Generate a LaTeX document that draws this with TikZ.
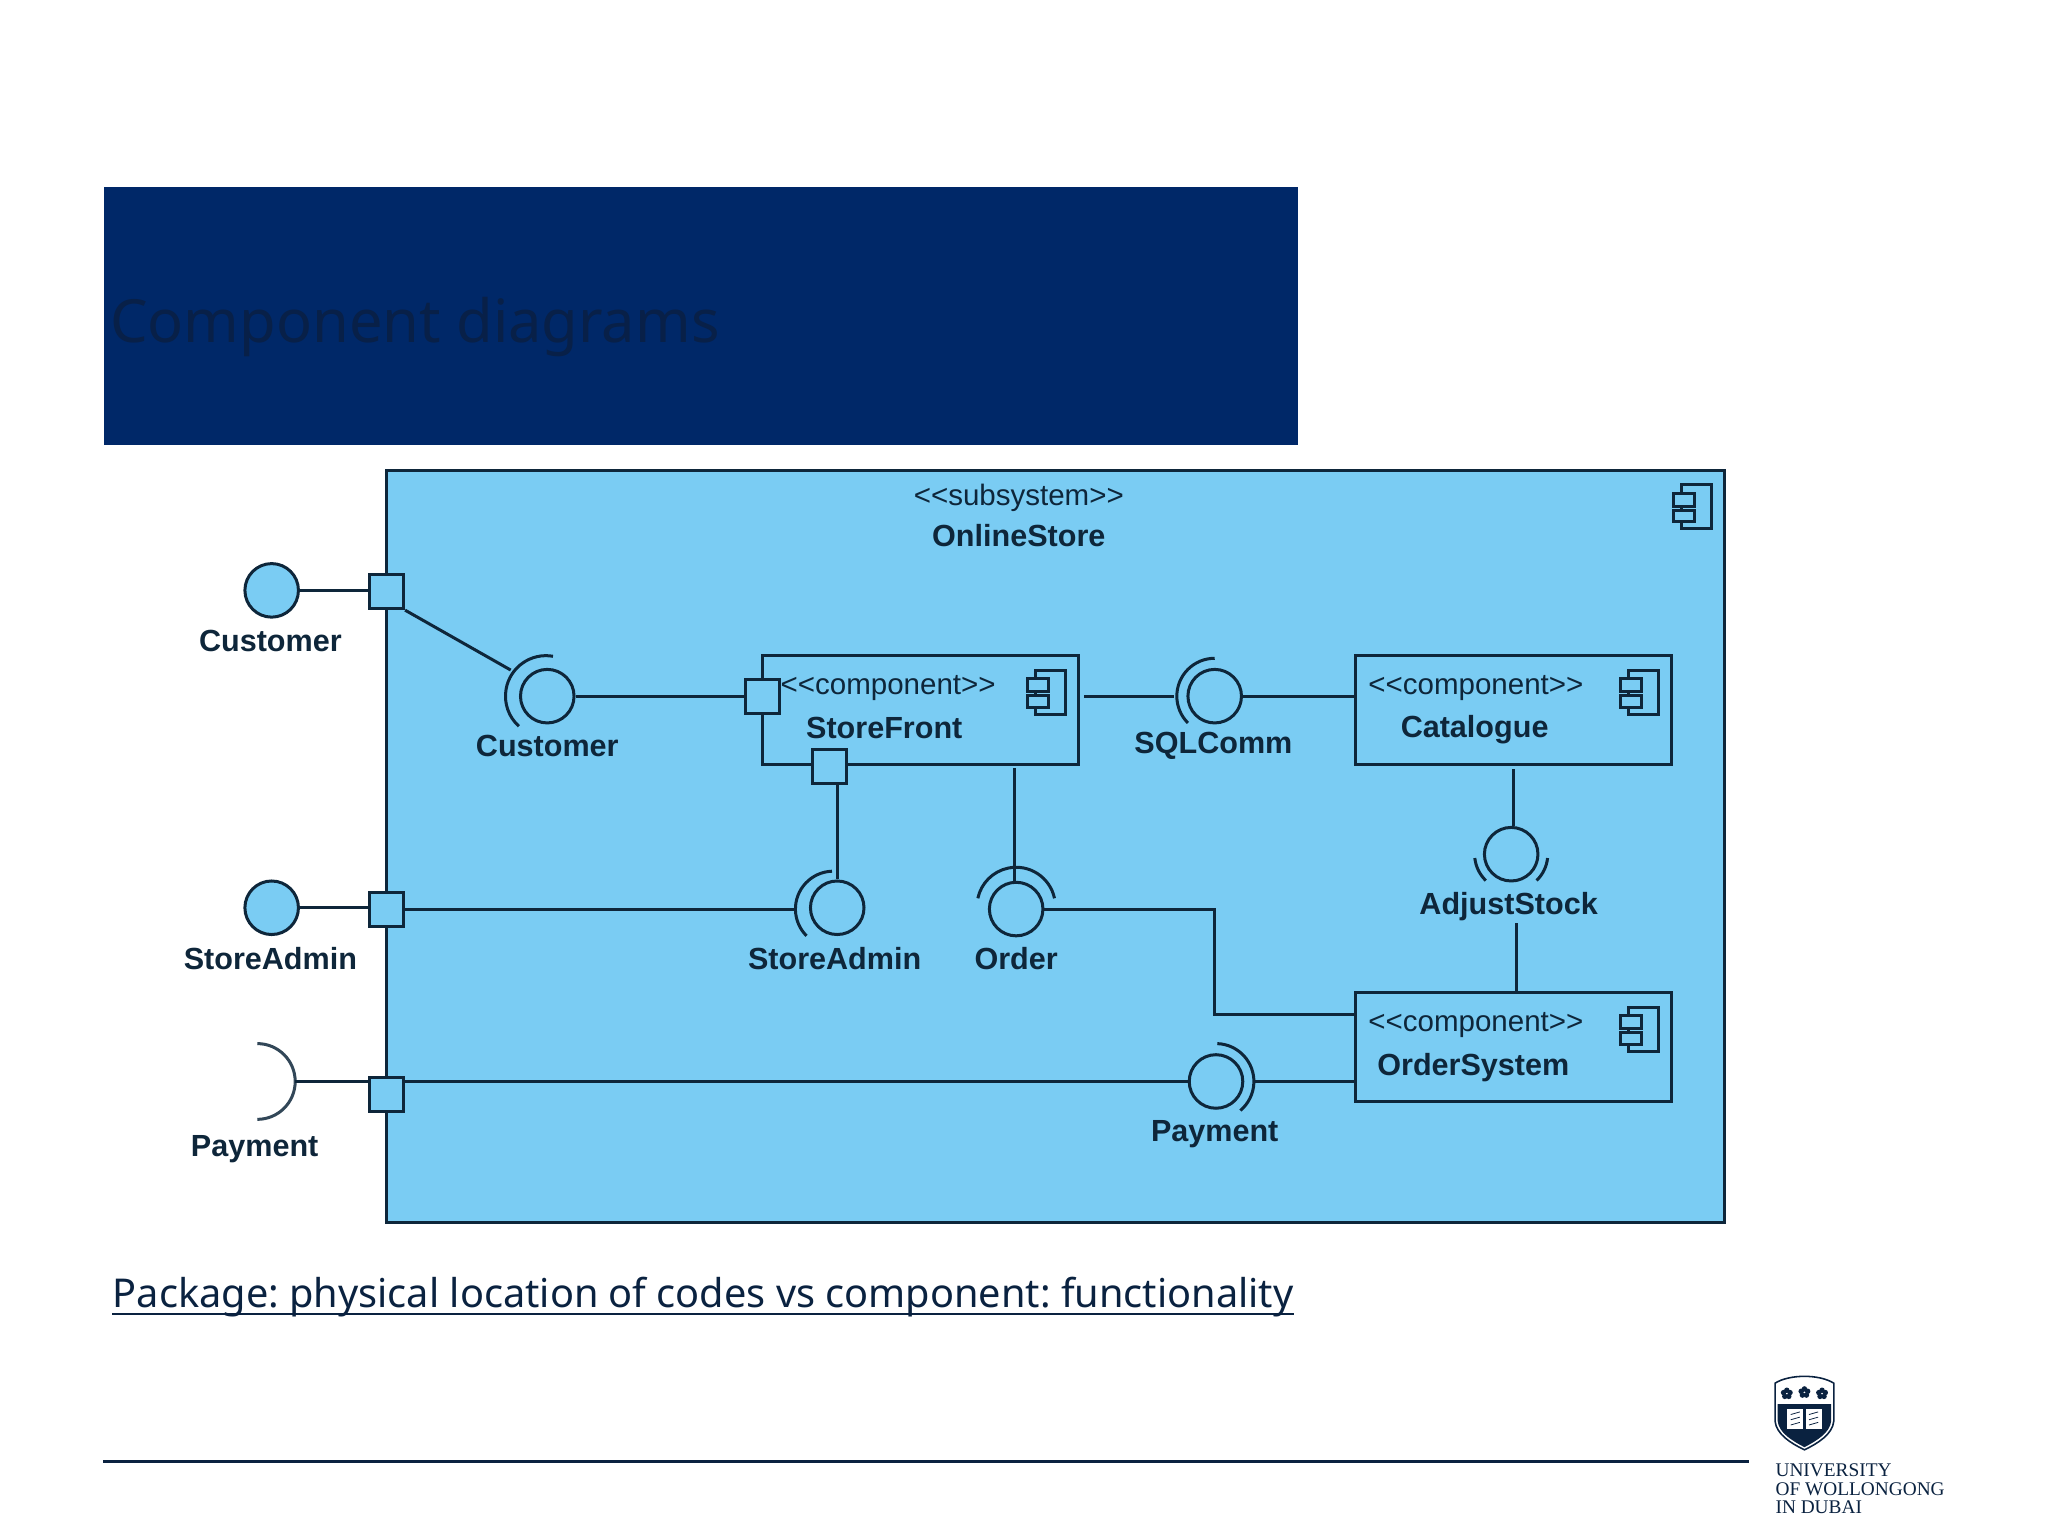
\documentclass[tikz,border=0pt]{standalone}
\usepackage{fontspec}
\setmainfont{Noto Sans}
\newfontfamily\umlfont{Liberation Sans}
\newfontfamily\crestfont{Liberation Serif}
\usetikzlibrary{positioning, calc}
\definecolor{headernavy}{RGB}{0, 40, 104}
\definecolor{titleink}{RGB}{8, 32, 72}
\definecolor{captionink}{RGB}{10, 34, 64}
\definecolor{storeblue}{RGB}{122, 204, 243}
\definecolor{umlink}{RGB}{14, 38, 58}
\tikzset{
 umlline/.style={draw=umlink, line width=1.15pt},
 ballnode/.style={circle, umlline, fill=storeblue, minimum size=20.5pt, inner sep=0pt},
 portnode/.style={rectangle, umlline, fill=storeblue, minimum size=13pt, inner sep=0pt},
 compbox/.style={rectangle, umlline, fill=storeblue, minimum width=121pt, minimum height=41.5pt, inner sep=0pt},
 namelabel/.style={text=umlink, font=\umlfont\bfseries\fontsize{11.7}{14}\selectfont, inner sep=0pt},
 stereolabel/.style={text=umlink, font=\umlfont\fontsize{11.3}{14}\selectfont, inner sep=0pt},
 crestlabel/.style={text=captionink, font=\crestfont\fontsize{7.4}{9}\selectfont, anchor=west, inner sep=0pt}
}
\newcommand{\compicon}[1]{
 \draw[umlline] ($(#1)+(-9,17)$) rectangle ($(#1)+(14,-17)$);
 \draw[umlline, fill=storeblue] ($(#1)+(-15,10.5)$) rectangle ($(#1)+(1,0.5)$);
 \draw[umlline, fill=storeblue] ($(#1)+(-15,-2.5)$) rectangle ($(#1)+(1,-11.5)$);
}
\begin{document}
\begin{tikzpicture}[x=0.5pt, y=0.5pt]
 \useasboundingbox (0,0) rectangle (1568,-1176);

 % Header band
 \fill[headernavy] (80,-143) rectangle (994,-341);
 \node[text=titleink, font=\fontsize{22.8}{28}\selectfont, anchor=west, inner sep=0pt] (titletext) at (84,-250) {Component diagrams};

 % Subsystem frame
 \node[rectangle, umlline, fill=storeblue, minimum width=512pt, minimum height=288pt, inner sep=0pt] (onlinestore) at (808,-648) {};
 \node[stereolabel] (subsystemtag) at (780,-381) {<<subsystem>>};
 \node[namelabel] (subsystemname) at (780,-410) {OnlineStore};
 \coordinate (subsystemicon) at (1296,-388);

 % Components
 \node[compbox] (storefront) at (705,-543.5) {};
 \node[compbox] (catalogue) at (1159,-543.5) {};
 \node[compbox] (ordersystem) at (1159,-801.5) {};
 \node[stereolabel] (storefronttag) at (680,-527) {<<component>>};
 \node[namelabel] (storefrontname) at (677,-557) {StoreFront};
 \node[stereolabel] (cataloguetag) at (1130,-527) {<<component>>};
 \node[namelabel] (cataloguename) at (1129,-559) {Catalogue};
 \node[stereolabel] (ordersystemtag) at (1130,-785) {<<component>>};
 \node[namelabel] (ordersystemname) at (1128,-817) {OrderSystem};
 \coordinate (storefronticon) at (802,-530);
 \coordinate (catalogueicon) at (1256,-530);
 \coordinate (ordersystemicon) at (1256,-788);
 \foreach \icon in {subsystemicon,storefronticon,catalogueicon,ordersystemicon} {
\compicon{\icon}
 }

 % Ports
 \node[portnode] (portcustomer) at (296,-453) {};
 \node[portnode] (portadmin) at (296,-696) {};
 \node[portnode] (portpayment) at (296,-838) {};
 \node[portnode] (portfrontleft) at (584,-533) {};
 \node[portnode] (portfrontlow) at (635,-587) {};

 % Outer interfaces
 \node[ballnode] (ballcustomer) at (208,-452) {};
 \node[ballnode] (balladmin) at (208,-695) {};
 \coordinate (socketpayment) at (226,-828);
 \draw[umlline, draw=umlink!85] (197,-799) arc (90:-90:29);
 \node[namelabel] (labelcustomer) at (207,-491) {Customer};
 \node[namelabel] (labeladmin) at (207,-734) {StoreAdmin};
 \node[namelabel] (labelpayment) at (195,-880) {Payment};
 \draw[umlline] (ballcustomer.east) -- (portcustomer.west |- ballcustomer.east);
 \draw[umlline] (balladmin.east) -- (portadmin.west |- balladmin.east);
 \draw[umlline] (socketpayment) -- (socketpayment -| portpayment.west);

 % Inner interfaces
 \node[ballnode] (ballfront) at (419,-533) {};
 \node[ballnode] (ballsql) at (930,-533) {};
 \node[ballnode] (balladmininner) at (641,-695) {};
 \node[ballnode] (ballorder) at (778,-696) {};
 \node[ballnode] (ballstock) at (1157,-654) {};
 \node[ballnode] (ballpay) at (931,-828) {};
 \draw[umlline] (ballfront) ++(-1,0) ++(80:31) arc (80:228:31);
 \draw[umlline] (ballsql) ++(90:29) arc (90:225:29);
 \draw[umlline] (balladmininner) ++(-3,-1) ++(92:29) arc (92:225:29);
 \draw[umlline] (ballorder) ++(0,2) ++(12:30) arc (12:168:30);
 \draw[umlline] (ballstock) ++(186:28) arc (186:226:28);
 \draw[umlline] (ballstock) ++(-6:28) arc (-6:-46:28);
 \draw[umlline] (ballpay) ++(88:29) arc (88:-50:29);
 \node[namelabel] (labelfront) at (419,-571) {Customer};
 \node[namelabel] (labelsql) at (929,-571) {SQLComm};
 \node[namelabel] (labeladmininner) at (639,-734) {StoreAdmin};
 \node[namelabel] (labelorder) at (778,-734) {Order};
 \node[namelabel] (labelstock) at (1155,-694) {AdjustStock};
 \node[namelabel] (labelpay) at (930,-868) {Payment};

 % Connectors
 \coordinate (sockfront) at (391,-513);
 \draw[umlline] (portcustomer.south east) -- (sockfront);
 \draw[umlline] (ballfront.east) -- (portfrontleft.west);
 \coordinate (frontright) at (830,-533);
 \draw[umlline] (frontright) -- (899,-533);
 \draw[umlline] (ballsql.east) -- (ballsql.east -| catalogue.west);
 \coordinate (frontlow) at (641,-600);
 \draw[umlline] (frontlow) -- (balladmininner.north);
 \draw[umlline] (portadmin.east) -- (608,-696);
 \coordinate (frontorder) at (777,-588);
 \draw[umlline] (frontorder) -- (ballorder.north -| frontorder);
 \coordinate (orderentry) at (1038,-777);
 \draw[umlline] (ballorder.east) -| (930,-777) -- (orderentry);
 \coordinate (cataloguelow) at (1159,-589);
 \draw[umlline] (cataloguelow) -- (ballstock.north -| cataloguelow);
 \coordinate (stocklow) at (1161,-707);
 \draw[umlline] (stocklow) -- (stocklow |- ordersystem.north);
 \coordinate (paystart) at (309,-828);
 \draw[umlline] (paystart) -- (ballpay.west);
 \coordinate (payright) at (961,-828);
 \draw[umlline] (payright) -- (payright -| ordersystem.west);

 % Caption and footer
 \node[text=captionink, font=\fontsize{15.2}{18}\selectfont, anchor=base west, inner sep=0pt] (captiontext) at (86,-1001) {\frenchspacing Package: physical location of codes vs component: functionality};
 \draw[captionink, line width=1pt] ($(captiontext.base west)+(0,-5)$) -- ($(captiontext.base east)+(0,-5)$);
 \draw[captionink, line width=1pt] (79,-1119) -- (1339,-1119);

 % Crest
 \draw[captionink, line width=0.6pt, fill=white] (1359,-1059) .. controls (1370,-1052) and (1393,-1052) .. (1404,-1059) -- (1404,-1088) .. controls (1403,-1098) and (1392,-1105) .. (1381.5,-1110) .. controls (1371,-1105) and (1360,-1098) .. (1359,-1088) -- cycle;
 \fill[captionink] (1361,-1075) -- (1402,-1075) -- (1402,-1088) .. controls (1401,-1097) and (1391,-1103) .. (1381.5,-1108) .. controls (1372,-1103) and (1362,-1097) .. (1361,-1088) -- cycle;
 \foreach \fx/\fy in {1368/-1067,1381.5/-1066,1395/-1067} {
\foreach \petal in {18,90,162,234,306} {
 \fill[captionink] (\fx,\fy) ++(\petal:2.6) circle (2.1);
}
 }
 \fill[white] (1368,-1079) rectangle (1380.5,-1094);
 \fill[white] (1382.5,-1079) rectangle (1395,-1094);
 \foreach \by in {-1083,-1087,-1091} {
\draw[captionink, line width=0.3pt] (1371,\by) -- (1378,\by+2);
\draw[captionink, line width=0.3pt] (1385,\by) -- (1392,\by+2);
 }
 \node[crestlabel] (crestone) at (1359,-1126) {UNIVERSITY};
 \node[crestlabel] (cresttwo) at (1359,-1140) {OF WOLLONGONG};
 \node[crestlabel] (crestthree) at (1359,-1154) {IN DUBAI};
\end{tikzpicture}
\end{document}
